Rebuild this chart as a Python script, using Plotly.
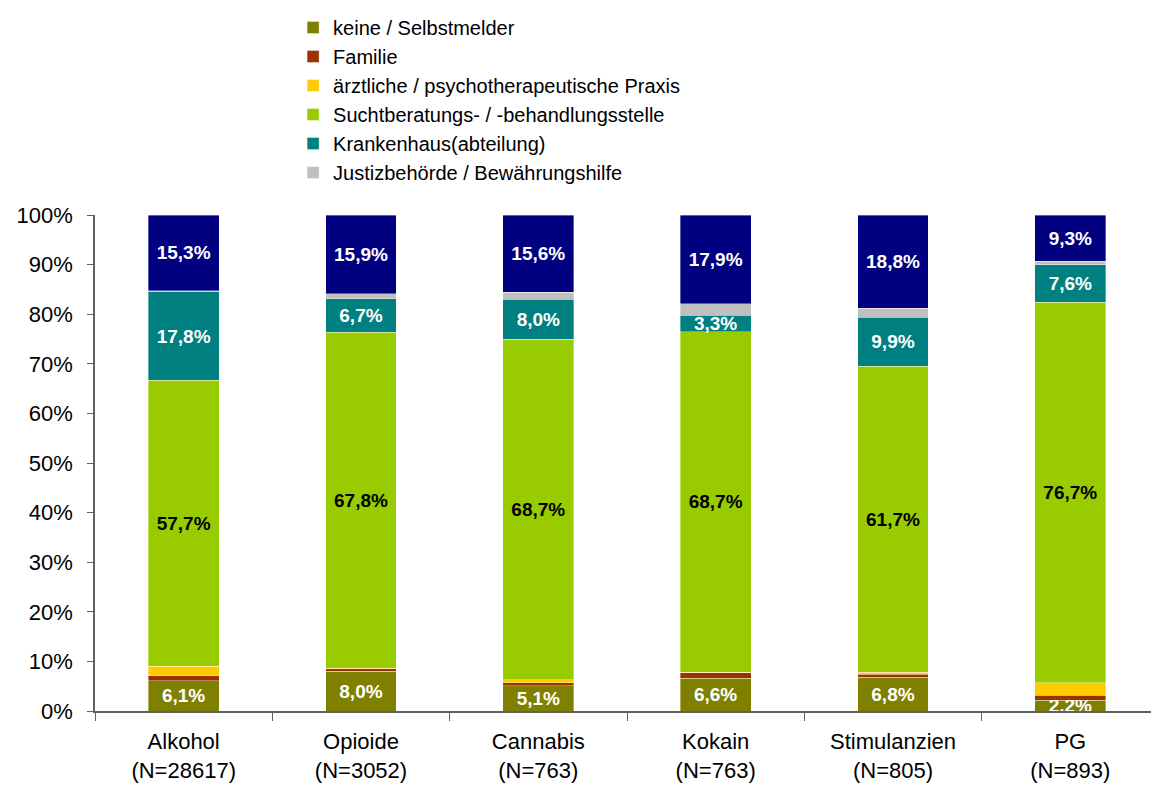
import plotly.graph_objects as go

categories = ["Alkohol<br>(N=28617)", "Opioide<br>(N=3052)", "Cannabis<br>(N=763)",
              "Kokain<br>(N=763)", "Stimulanzien<br>(N=805)", "PG<br>(N=893)"]

keine = [6.1, 8.0, 5.1, 6.6, 6.8, 2.2]
familie = [1.0, 0.5, 0.6, 1.1, 0.6, 1.0]
praxis = [1.9, 0.1, 0.6, 0.1, 0.4, 2.5]
sucht = [57.7, 67.8, 68.7, 68.7, 61.7, 76.7]
krankenhaus = [17.8, 6.7, 8.0, 3.3, 9.9, 7.6]
justiz = [0.2, 1.0, 1.4, 2.3, 1.8, 0.7]
sonstige = [15.3, 15.9, 15.6, 17.9, 18.8, 9.3]

series = [
    ("keine / Selbstmelder", keine, "#808000", True, True, "white"),
    ("Familie", familie, "#993300", False, True, "white"),
    ("ärztliche / psychotherapeutische Praxis", praxis, "#FFCC00", False, True, "black"),
    ("Suchtberatungs- / -behandlungsstelle", sucht, "#99CC00", True, True, "black"),
    ("Krankenhaus(abteilung)", krankenhaus, "#008080", True, True, "white"),
    ("Justizbehörde / Bewährungshilfe", justiz, "#C0C0C0", False, True, "white"),
    ("sonstige", sonstige, "#000080", True, False, "white"),
]

def fmt(v):
    return f"{v:.1f}%".replace(".", ",")

fig = go.Figure()
for name, vals, color, labelled, inlegend, tcolor in series:
    fig.add_trace(go.Bar(
        name=name, x=categories, y=vals,
        marker=dict(color=color, line=dict(color="rgba(255,255,255,0.6)", width=0.6)),
        text=[fmt(v) for v in vals] if labelled else None,
        textposition="inside" if labelled else "none",
        insidetextanchor="middle",
        textangle=0,
        textfont=dict(family="Liberation Sans", size=19, color=tcolor, weight="bold"),
        showlegend=inlegend,
        hoverinfo="skip",
    ))

fig.update_layout(
    width=1159, height=785,
    barmode="stack", bargap=0.6,
    plot_bgcolor="white", paper_bgcolor="white",
    font=dict(family="Liberation Sans", size=22, color="black"),
    margin=dict(l=87, r=8, t=207, b=82, autoexpand=False),
    uniformtext=dict(minsize=19, mode="show"),
    legend=dict(
        xref="container", yref="container", x=0.246, y=1.022,
        xanchor="left", yanchor="top",
        font=dict(family="Liberation Sans", size=20, color="black"),
        bgcolor="rgba(0,0,0,0)", traceorder="normal", tracegroupgap=0,
        itemwidth=30,
    ),
    showlegend=True,
)
fig.update_xaxes(
    showline=True, linecolor="#606060", linewidth=1.5,
    ticks="outside", tickson="boundaries", ticklen=8, tickcolor="#606060",
    showgrid=False, tickfont=dict(size=22), tickangle=0, ticklabelstandoff=10,
)
fig.update_yaxes(
    range=[0, 100], dtick=10, ticksuffix="%",
    showline=True, linecolor="#606060", linewidth=1.5,
    ticks="outside", ticklen=6, tickcolor="#606060",
    showgrid=False, zeroline=False, tickfont=dict(size=22), ticklabelstandoff=10,
)

fig.write_html("out.html")
